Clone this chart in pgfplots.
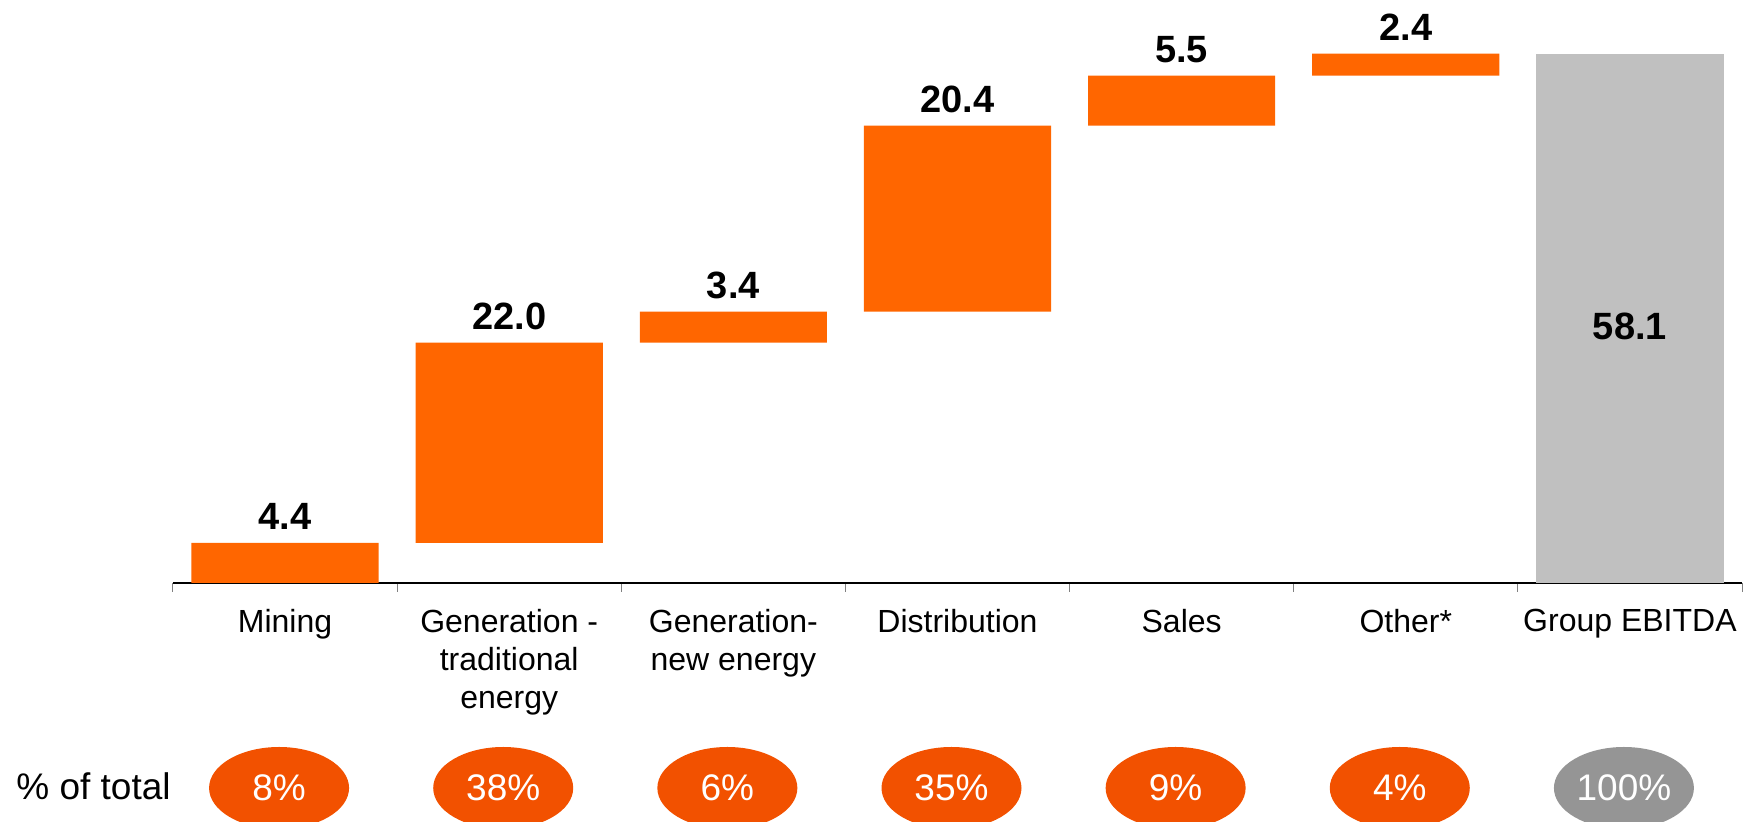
\documentclass[border=0pt]{standalone}
\usepackage{pgfplots}
\pgfplotsset{compat=1.18}
\usepackage{pgfplotstable}
\usepackage{fontspec}
\setmainfont{Liberation Sans}
\usetikzlibrary{shapes.geometric}

\definecolor{barorange}{HTML}{FF6600}
\definecolor{ovalorange}{HTML}{F25100}
\definecolor{totalgray}{HTML}{C0C0C0}
\definecolor{ovalgray}{HTML}{959595}

% waterfall: invisible base + visible step, total bar separately
\pgfplotstableread{
x base delta total
0 0    4.4  0
1 4.4  22.0 0
2 26.4 3.4  0
3 29.8 20.4 0
4 50.2 5.5  0
5 55.7 2.4  0
6 0    0    58.1
}\wf

\begin{document}
\begin{tikzpicture}[
    val/.style={font=\bfseries\fontsize{19}{21}\selectfont, anchor=base, inner sep=0pt, yshift=6.5pt},
    oval/.style={ellipse, fill=ovalorange, minimum width=70pt, minimum height=41pt,
      inner sep=0pt, text=white, font=\fontsize{18.5}{20}\selectfont},
  ]
  \begin{axis}[
      name=ax, scale only axis,
      width=784.5pt, height=291.5pt,
      xmin=-0.5, xmax=6.5, ymin=0, ymax=64,
      enlargelimits=false,
      ybar stacked, bar width=0.835,
      axis x line*=bottom, axis y line=none,
      x axis line style={black, line width=0.9pt},
      xtick={0,...,6},
      xticklabels={Mining, {Generation -\\traditional\\energy}, {Generation-\\new energy},
        Distribution, Sales, Other*, Group EBITDA},
      major tick length=0pt,
      minor xtick={-0.5,0.5,...,6.5},
      minor tick length=4.5pt, tick align=outside,
      minor tick style={gray, line width=0.5pt},
      xticklabel style={font=\fontsize{16}{19}\selectfont, align=center,
        anchor=north, inner sep=0pt, yshift=-13pt},
      clip=false,
      % total label goes on top of the grey bar
      after end axis/.code={
        \node[font=\bfseries\fontsize{19}{21}\selectfont] at (axis cs:6,28.2) {58.1};
      },
    ]
    \addplot[draw=none, fill=none] table[x=x, y=base] {\wf};
    \addplot[draw=none, fill=barorange] table[x=x, y=delta] {\wf};
    \addplot[draw=none, fill=totalgray] table[x=x, y=total] {\wf};

    \node[val] at (axis cs:0,4.4) {4.4};
    \node[val] at (axis cs:1,26.4) {22.0};
    \node[val] at (axis cs:2,29.8) {3.4};
    \node[val] at (axis cs:3,50.2) {20.4};
    \node[val] at (axis cs:4,55.7) {5.5};
    \node[val] at (axis cs:5,58.1) {2.4};

    \node[anchor=base west, inner sep=0pt, font=\fontsize{18.5}{20}\selectfont]
      at ([xshift=-78.5pt, yshift=-108.5pt]axis cs:-0.5,0) {\% of total};
    \node[oval] at ([xshift=-3pt, yshift=-102.5pt]axis cs:0,0) {8\%};
    \node[oval] at ([xshift=-3pt, yshift=-102.5pt]axis cs:1,0) {38\%};
    \node[oval] at ([xshift=-3pt, yshift=-102.5pt]axis cs:2,0) {6\%};
    \node[oval] at ([xshift=-3pt, yshift=-102.5pt]axis cs:3,0) {35\%};
    \node[oval] at ([xshift=-3pt, yshift=-102.5pt]axis cs:4,0) {9\%};
    \node[oval] at ([xshift=-3pt, yshift=-102.5pt]axis cs:5,0) {4\%};
    \node[oval, fill=ovalgray] at ([xshift=-3pt, yshift=-102.5pt]axis cs:6,0) {100\%};
  \end{axis}
  \pgfresetboundingbox
  \path[use as bounding box] ([xshift=-86.5pt, yshift=-119.5pt]ax.south west)
    rectangle ([xshift=2.5pt]ax.north east);
\end{tikzpicture}
\end{document}
